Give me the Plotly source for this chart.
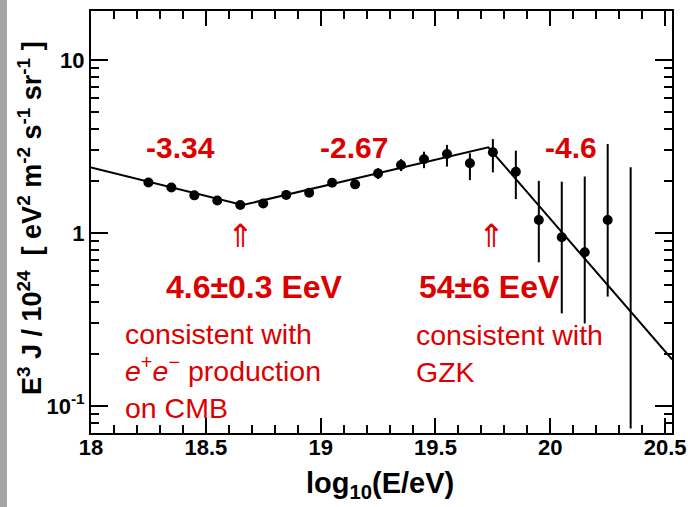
import plotly.graph_objects as go

# ---------------- data ----------------
log_e = [18.25, 18.35, 18.45, 18.55, 18.65, 18.75, 18.85, 18.95, 19.05, 19.15,
         19.25, 19.35, 19.45, 19.55, 19.65, 19.75, 19.85, 19.95, 20.05, 20.15, 20.25]
e3j = [1.96, 1.83, 1.65, 1.54, 1.45, 1.48, 1.66, 1.71, 1.95, 1.91,
       2.21, 2.47, 2.67, 2.86, 2.53, 2.93, 2.26, 1.19, 0.945, 0.773, 1.19]
e3j_hi = [2.05, 1.91, 1.72, 1.60, 1.51, 1.54, 1.73, 1.79, 2.04, 2.02,
          2.37, 2.67, 2.95, 3.23, 2.89, 3.49, 2.99, 2.00, 1.98, 2.12, 3.27]
e3j_lo = [1.88, 1.76, 1.59, 1.48, 1.40, 1.42, 1.60, 1.64, 1.87, 1.80,
          2.05, 2.28, 2.37, 2.42, 2.02, 2.24, 1.57, 0.677, 0.343, 0.300, 0.429]

# bin with no central point drawn (error bar only)
ul_x = [20.35]
ul_hi = [2.40]
ul_lo = [0.0742]

# broken power-law fit (break points)
fit_x = [18.0, 18.66, 19.73, 20.53]
fit_y = [2.39, 1.45, 3.13, 0.186]

x_ticks = [18, 18.5, 19, 19.5, 20, 20.5]
x_ticktext = ["18", "18.5", "19", "19.5", "20", "20.5"]
y_ticks = [0.1, 1, 10]
y_ticktext = ["10<sup>-1</sup>", "1", "10"]
y_minor = [0.07, 0.08, 0.09, 0.2, 0.3, 0.4, 0.5, 0.6, 0.7, 0.8, 0.9,
           2, 3, 4, 5, 6, 7, 8, 9]

slope_labels = ["-3.34", "-2.67", "-4.6"]
break_labels = ["4.6\u00b10.3 EeV", "54\u00b16 EeV"]
note_left = "consistent with<br><i>e</i><sup>+</sup><i>e</i><sup>\u2212</sup> production<br>on CMB"
note_right = "consistent with<br>GZK"

# ---------------- layout geometry ----------------
W, H = 688, 507
L, R, T, B = 91, 16, 11, 74
PW, PH = W - L - R, H - T - B
FONT = "Liberation Sans, Arial, Helvetica, sans-serif"
RED = "rgb(221,0,0)"


def px(xp):
    return (xp - L) / PW


def py(yp):
    return (H - B - yp) / PH


err_plus = [h - v for h, v in zip(e3j_hi, e3j)]
err_minus = [v - l for v, l in zip(e3j, e3j_lo)]

fig = go.Figure()

fig.add_trace(go.Scatter(
    x=fit_x, y=fit_y, mode="lines",
    line=dict(color="black", width=2), hoverinfo="skip", showlegend=False))

for xv, lo, hi in zip(ul_x, ul_lo, ul_hi):
    fig.add_trace(go.Scatter(
        x=[xv, xv], y=[lo, hi], mode="lines",
        line=dict(color="black", width=2), showlegend=False))

fig.add_trace(go.Scatter(
    x=log_e, y=e3j, mode="markers",
    marker=dict(color="black", size=10, symbol="circle"),
    error_y=dict(type="data", symmetric=False, array=err_plus, arrayminus=err_minus,
                 color="black", thickness=2, width=0),
    showlegend=False))

annotations = []
for text, (cx, cy) in zip(slope_labels, [(180, 148), (354, 148), (571, 148)]):
    annotations.append(dict(text=text, x=px(cx), y=py(cy), xref="paper", yref="paper",
                            showarrow=False, xanchor="center", yanchor="middle",
                            font=dict(family=FONT, size=30, color=RED, weight="bold")))
for cx in [240, 491]:
    annotations.append(dict(text="\u21d1", x=px(cx), y=py(236), xref="paper", yref="paper",
                            showarrow=False, xanchor="center", yanchor="middle",
                            font=dict(family="DejaVu Sans", size=32, color=RED)))
for text, (cx, cy) in zip(break_labels, [(254, 287), (489, 287)]):
    annotations.append(dict(text=text, x=px(cx), y=py(cy), xref="paper", yref="paper",
                            showarrow=False, xanchor="center", yanchor="middle",
                            font=dict(family=FONT, size=32, color=RED, weight="bold")))
annotations.append(dict(text=note_left, x=px(123), y=py(371), xref="paper", yref="paper",
                        showarrow=False, xanchor="left", yanchor="middle", align="left",
                        font=dict(family=FONT, size=28.5, color=RED)))
annotations.append(dict(text=note_right, x=px(414), y=py(353), xref="paper", yref="paper",
                        showarrow=False, xanchor="left", yanchor="middle", align="left",
                        font=dict(family=FONT, size=28.5, color=RED)))
# axis titles
annotations.append(dict(
    text="E<sup>3</sup> J / 10<sup>24</sup>  [ eV<sup>2</sup> m<sup>-2</sup> s<sup>-1</sup> sr<sup>-1</sup> ]",
    x=px(30), y=py(218), xref="paper", yref="paper", textangle=-90,
    showarrow=False, xanchor="center", yanchor="middle",
    font=dict(family=FONT, size=27, color="black", weight="bold")))
annotations.append(dict(
    text="log<sub>10</sub>(E/eV)", x=px(380), y=py(485), xref="paper", yref="paper",
    showarrow=False, xanchor="center", yanchor="middle",
    font=dict(family=FONT, size=29, color="black", weight="bold")))

fig.update_layout(
    width=W, height=H,
    margin=dict(l=L, r=R, t=T, b=B, pad=0, autoexpand=False),
    paper_bgcolor="white", plot_bgcolor="white",
    showlegend=False,
    annotations=annotations,
    shapes=[dict(type="rect", xref="paper", yref="paper",
                 x0=px(0), x1=px(7), y0=py(H), y1=py(0),
                 fillcolor="rgb(165,165,165)", line=dict(width=0), layer="above")],
    xaxis=dict(
        range=[18, 20.53], tickmode="array", tickvals=x_ticks, ticktext=x_ticktext,
        ticks="inside", ticklen=15, tickwidth=2, tickcolor="black",
        minor=dict(dtick=0.1, tick0=18, ticks="inside", ticklen=8, tickwidth=2,
                   tickcolor="black"),
        showline=True, linewidth=2, linecolor="black", mirror="allticks",
        showgrid=False, zeroline=False, automargin=False,
        ticklabelstandoff=-6,
        tickfont=dict(family=FONT, size=22, color="black", weight="bold")),
    yaxis=dict(
        type="log", range=[-1.156, 1.283], tickmode="array", tickvals=y_ticks,
        ticktext=y_ticktext,
        ticks="inside", ticklen=17, tickwidth=2, tickcolor="black",
        minor=dict(tickmode="array", tickvals=y_minor, ticks="inside", ticklen=8,
                   tickwidth=2, tickcolor="black"),
        showline=True, linewidth=2, linecolor="black", mirror="allticks",
        showgrid=False, zeroline=False, automargin=False,
        tickfont=dict(family=FONT, size=22, color="black", weight="bold")),
)

fig.write_html("out.html")
